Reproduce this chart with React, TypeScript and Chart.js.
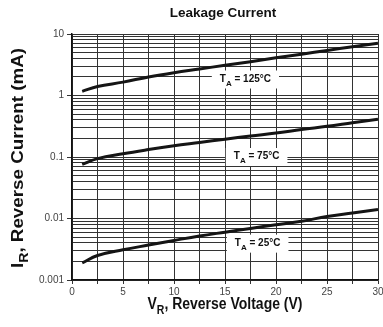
import React, { useEffect, useRef } from "react";
import { Chart, registerables } from "chart.js";

Chart.register(...registerables);

const voltage = [1, 2.5, 5, 7.5, 10, 12.5, 15, 17.5, 20, 22.5, 25, 27.5, 30];
const i125 = [1.17, 1.4, 1.65, 2.0, 2.35, 2.7, 3.1, 3.55, 4.1, 4.7, 5.4, 6.2, 7.1];
const i75 = [0.076, 0.094, 0.113, 0.132, 0.152, 0.172, 0.195, 0.22, 0.245, 0.28, 0.315, 0.36, 0.41];
const i25 = [0.0019, 0.0025, 0.0031, 0.0037, 0.0044, 0.0052, 0.006, 0.0069, 0.0079, 0.009, 0.0108, 0.0123, 0.014];

const seriesTemps = ["125°C", "75°C", "25°C"];
const labelAnchorV = [17.0, 18.1, 18.2];
const labelAnchorI = [1.82, 0.1, 0.0039];

const yDecadeLabels = ["10", "1", "0.1", "0.01", "0.001"];

const FONT = '"Liberation Sans", Arial, Helvetica, sans-serif';

function isDecade(v: number) {
  const l = Math.log10(v);
  return Math.abs(l - Math.round(l)) < 1e-9;
}

const drawPlugin = {
  id: "customText",
  afterDatasetsDraw(chart: any) {
    const { ctx, scales } = chart;
    const xs = scales.x;
    const ys = scales.y;
    ctx.save();
    seriesTemps.forEach((t, i) => {
      const px = xs.getPixelForValue(labelAnchorV[i]);
      const py = ys.getPixelForValue(labelAnchorI[i]);
      const main = `bold 10px ${FONT}`;
      const sub = `bold 8px ${FONT}`;
      ctx.font = main;
      const wT = ctx.measureText("T").width;
      const rest = " = " + t;
      const wR = ctx.measureText(rest).width;
      ctx.font = sub;
      const wA = ctx.measureText("A").width;
      const total = wT + wA + wR;
      const padX = 8;
      const h = 18;
      ctx.fillStyle = "#ffffff";
      ctx.fillRect(px - total / 2 - padX, py - h / 2, total + 2 * padX, h);
      ctx.fillStyle = "#111";
      ctx.textBaseline = "alphabetic";
      ctx.textAlign = "left";
      let cx = px - total / 2;
      const base = py + 2;
      ctx.font = main;
      ctx.fillText("T", cx, base);
      cx += wT;
      ctx.font = sub;
      ctx.fillText("A", cx, base + 4);
      cx += wA;
      ctx.font = main;
      ctx.fillText(rest, cx, base);
    });
    ctx.restore();
  },
  afterDraw(chart: any) {
    const { ctx, chartArea } = chart;
    const cxMid = (chartArea.left + chartArea.right) / 2;
    ctx.save();
    ctx.fillStyle = "#111";
    ctx.textAlign = "center";
    ctx.textBaseline = "alphabetic";
    ctx.font = `bold 13.5px ${FONT}`;
    ctx.fillText("Leakage Current", cxMid - 2, 17);

    const big = `bold 16px ${FONT}`;
    const small = `bold 12px ${FONT}`;
    const drawSubTitle = (a: string, s: string, b: string, x: number, y: number, target: number) => {
      ctx.font = big;
      const wa = ctx.measureText(a).width;
      const wb = ctx.measureText(b).width;
      ctx.font = small;
      const ws = ctx.measureText(s).width;
      const total = wa + ws + wb;
      const k = target / total;
      ctx.save();
      ctx.translate(x - target / 2, y);
      ctx.scale(k, 1);
      ctx.textAlign = "left";
      let cx = 0;
      ctx.font = big;
      ctx.fillText(a, cx, 0);
      cx += wa;
      ctx.font = small;
      ctx.fillText(s, cx, 5);
      cx += ws;
      ctx.font = big;
      ctx.fillText(b, cx, 0);
      ctx.restore();
    };
    drawSubTitle("V", "R", ", Reverse Voltage (V)", cxMid, 309, 155);

    ctx.translate(23, 158);
    ctx.rotate(-Math.PI / 2);
    drawSubTitle("I", "R", ", Reverse Current (mA)", 0, 0, 220);
    ctx.restore();
  },
};

export default function App() {
  const ref = useRef<HTMLCanvasElement>(null);
  useEffect(() => {
    document.body.style.margin = "0";
    const canvas = ref.current!;
    const yTickVals: number[] = [];
    for (let e = -3; e <= 0; e++) {
      for (let m = 1; m <= 9; m++) yTickVals.push(m * Math.pow(10, e));
    }
    yTickVals.push(10);
    const mk = (data: number[]) => ({
      data: voltage.map((v, i) => ({ x: v, y: data[i] })),
      borderColor: "#151515",
      borderWidth: 3,
      pointRadius: 0,
      tension: 0.4,
      fill: false,
    });
    const chart = new Chart(canvas, {
      type: "line",
      data: {
        datasets: [mk(i125), mk(i75), mk(i25)],
      },
      options: {
        animation: false,
        responsive: false,
        layout: { padding: { top: 34, right: 5, left: 0, bottom: 0 } },
        plugins: { legend: { display: false }, tooltip: { enabled: false } },
        scales: {
          x: {
            type: "linear",
            min: 0,
            max: 30,
            afterFit: (s: any) => {
              s.height = 47;
              s.paddingLeft = 0;
              s.paddingRight = 0;
            },
            ticks: {
              stepSize: 2.5,
              autoSkip: false,
              maxRotation: 0,
              padding: 2,
              color: "#444",
              font: { size: 10, family: FONT },
              callback: (v: any) => (Number(v) % 5 === 0 ? String(v) : ""),
            },
            grid: { color: "#333", lineWidth: 1, tickLength: 4 },
            border: { color: "#111", width: 1.5 },
          },
          y: {
            type: "logarithmic",
            min: 0.001,
            max: 10,
            afterFit: (s: any) => {
              s.width = 72;
              s.paddingTop = 0;
              s.paddingBottom = 0;
            },
            afterBuildTicks: (s: any) => {
              s.ticks = yTickVals.map((v) => ({ value: v }));
            },
            ticks: {
              autoSkip: false,
              padding: 3,
              color: "#444",
              font: { size: 10, family: FONT },
              callback: (v: any) => {
                const n = Number(v);
                if (!isDecade(n)) return "";
                const idx = Math.round(1 - Math.log10(n));
                return yDecadeLabels[idx];
              },
            },
            grid: {
              color: "#333",
              lineWidth: 1,
              tickLength: 5,
              tickColor: (c: any) => (c.tick && isDecade(c.tick.value) ? "#333" : "rgba(0,0,0,0)"),
            },
            border: { color: "#111", width: 1.5 },
          },
        },
      },
      plugins: [drawPlugin],
    } as any);
    return () => chart.destroy();
  }, []);
  return (
    <div style={{ position: "absolute", left: 0, top: 0, width: 383, height: 327 }}>
      <canvas ref={ref} width={383} height={327} />
    </div>
  );
}
